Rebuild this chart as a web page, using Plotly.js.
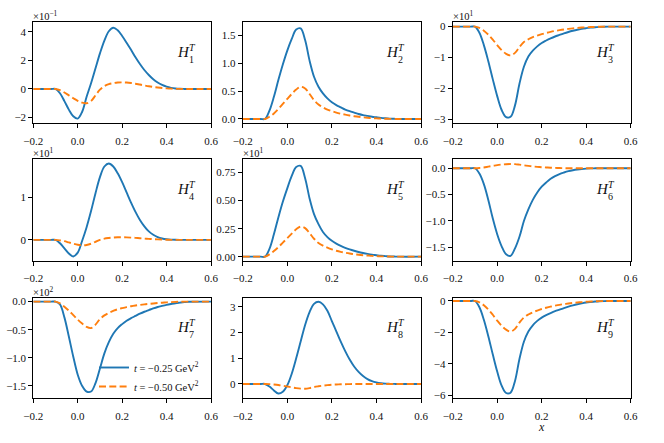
<!DOCTYPE html>
<html><head><meta charset="utf-8">
<script src="https://cdn.plot.ly/plotly-3.0.1.min.js"></script>
<style>html,body{margin:0;padding:0;background:#fff}#chart{width:664px;height:443px}</style>
</head><body><div id="chart"></div>
<script>
// shared x grid
const xGrid = [-0.2, -0.12, -0.1, -0.08, -0.06, -0.04, -0.02, 0.0, 0.02, 0.04, 0.06, 0.08, 0.1, 0.12, 0.14, 0.16, 0.18, 0.2, 0.22, 0.24, 0.26, 0.28, 0.3, 0.32, 0.34, 0.36, 0.38, 0.4, 0.42, 0.44, 0.46, 0.48, 0.5, 0.6];

const seriesNames = ['<i>t</i> = −0.25 GeV<sup>2</sup>', '<i>t</i> = −0.50 GeV<sup>2</sup>'];
const xAxisTitle = '<i>x</i>';

// values in units of the offset multiplier shown on each panel
const H1_t025 = [0,0,0,-0.3,-0.85,-1.45,-1.92,-2.08,-1.6,-0.55,0.4,1.45,2.5,3.4,4.05,4.3,4.12,3.72,3.25,2.75,2.22,1.75,1.33,0.98,0.68,0.45,0.28,0.16,0.08,0.035,0.012,0.003,0,0];
const H1_t050 = [0,0,0,-0.08,-0.25,-0.45,-0.65,-0.83,-0.96,-1.0,-0.85,-0.45,-0.05,0.2,0.34,0.41,0.45,0.46,0.45,0.42,0.37,0.31,0.25,0.19,0.14,0.1,0.065,0.04,0.022,0.01,0.004,0.001,0,0];

const H2_t025 = [0,0,0,0.15,0.4,0.7,0.98,1.23,1.44,1.61,1.63,1.42,1.05,0.76,0.58,0.46,0.37,0.3,0.25,0.21,0.17,0.14,0.115,0.09,0.07,0.055,0.04,0.03,0.02,0.012,0.006,0.003,0,0];
const H2_t050 = [0,0,0,0.04,0.1,0.18,0.27,0.36,0.45,0.53,0.58,0.55,0.45,0.34,0.26,0.21,0.17,0.14,0.115,0.095,0.077,0.062,0.05,0.039,0.03,0.022,0.016,0.011,0.007,0.004,0.002,0.001,0,0];

const H3_t025 = [0,0,0,-0.2,-0.6,-1.12,-1.7,-2.25,-2.7,-2.93,-2.92,-2.55,-1.85,-1.3,-0.97,-0.78,-0.64,-0.53,-0.45,-0.38,-0.32,-0.27,-0.22,-0.175,-0.135,-0.1,-0.072,-0.05,-0.032,-0.018,-0.009,-0.003,0,0];
const H3_t050 = [0,0,0,-0.04,-0.13,-0.26,-0.42,-0.6,-0.76,-0.88,-0.93,-0.85,-0.66,-0.5,-0.41,-0.34,-0.29,-0.245,-0.205,-0.17,-0.14,-0.115,-0.092,-0.072,-0.055,-0.041,-0.03,-0.021,-0.013,-0.007,-0.003,-0.001,0,0];

const H4_t025 = [0,0,0,-0.08,-0.2,-0.32,-0.39,-0.3,-0.02,0.3,0.68,1.1,1.48,1.73,1.8,1.73,1.57,1.36,1.12,0.88,0.66,0.47,0.32,0.2,0.12,0.066,0.034,0.016,0.007,0.003,0.001,0,0,0];
const H4_t050 = [0,0,0,-0.01,-0.03,-0.06,-0.09,-0.115,-0.125,-0.12,-0.09,-0.045,0.0,0.03,0.046,0.056,0.061,0.062,0.06,0.055,0.048,0.04,0.032,0.025,0.018,0.012,0.008,0.005,0.002,0.001,0,0,0,0];

const H5_t025 = [0,0,0,0.07,0.2,0.35,0.49,0.61,0.72,0.8,0.81,0.7,0.52,0.38,0.29,0.22,0.175,0.142,0.117,0.096,0.079,0.065,0.053,0.042,0.033,0.025,0.018,0.013,0.008,0.005,0.002,0.001,0,0];
const H5_t050 = [0,0,0,0.02,0.05,0.085,0.125,0.165,0.205,0.245,0.268,0.255,0.21,0.16,0.122,0.098,0.08,0.065,0.053,0.043,0.035,0.028,0.022,0.017,0.013,0.01,0.007,0.005,0.003,0.002,0.001,0,0,0];

const H6_t025 = [0,0,0,-0.1,-0.3,-0.6,-0.95,-1.25,-1.48,-1.63,-1.66,-1.52,-1.3,-1.0,-0.78,-0.6,-0.46,-0.35,-0.27,-0.2,-0.15,-0.11,-0.08,-0.055,-0.037,-0.024,-0.014,-0.007,-0.003,-0.001,0,0,0,0];
const H6_t050 = [0,0,0,0.005,0.015,0.03,0.045,0.06,0.07,0.077,0.08,0.078,0.068,0.056,0.045,0.035,0.027,0.02,0.015,0.01,0.007,0.004,0.002,0.001,0,0,0,0,0,0,0,0,0,0];

const H7_t025 = [0,0,0,-0.05,-0.28,-0.62,-0.98,-1.3,-1.5,-1.6,-1.6,-1.45,-1.19,-0.92,-0.72,-0.57,-0.47,-0.4,-0.34,-0.295,-0.255,-0.215,-0.18,-0.15,-0.12,-0.095,-0.075,-0.057,-0.042,-0.028,-0.018,-0.009,-0.003,0];
const H7_t050 = [0,0,0,-0.03,-0.09,-0.16,-0.24,-0.32,-0.39,-0.45,-0.47,-0.41,-0.31,-0.245,-0.2,-0.165,-0.135,-0.115,-0.097,-0.082,-0.069,-0.058,-0.048,-0.04,-0.032,-0.025,-0.019,-0.013,-0.008,-0.004,-0.002,0,0,0];

const H8_t025 = [0,0,0,-0.1,-0.25,-0.37,-0.3,-0.05,0.4,1.0,1.65,2.3,2.8,3.12,3.2,3.1,2.85,2.45,2.05,1.65,1.28,0.95,0.68,0.47,0.31,0.19,0.11,0.06,0.03,0.013,0.005,0.002,0,0];
const H8_t050 = [0,0,0,-0.005,-0.02,-0.04,-0.07,-0.1,-0.13,-0.16,-0.18,-0.185,-0.16,-0.12,-0.09,-0.065,-0.045,-0.03,-0.02,-0.013,-0.008,-0.005,-0.003,-0.001,0,0,0,0,0,0,0,0,0,0];

const H9_t025 = [0,0,0,-0.4,-1.2,-2.25,-3.4,-4.5,-5.4,-5.87,-5.85,-5.1,-3.7,-2.6,-1.95,-1.55,-1.27,-1.06,-0.9,-0.77,-0.65,-0.55,-0.45,-0.36,-0.28,-0.21,-0.15,-0.1,-0.065,-0.037,-0.018,-0.007,-0.002,0];
const H9_t050 = [0,0,0,-0.08,-0.27,-0.54,-0.88,-1.25,-1.58,-1.83,-1.95,-1.78,-1.38,-1.05,-0.86,-0.72,-0.61,-0.51,-0.43,-0.36,-0.3,-0.245,-0.2,-0.16,-0.125,-0.095,-0.07,-0.05,-0.033,-0.02,-0.01,-0.004,-0.001,0];

const panelSeries = [[H1_t025,H1_t050],[H2_t025,H2_t050],[H3_t025,H3_t050],[H4_t025,H4_t050],[H5_t025,H5_t050],[H6_t025,H6_t050],[H7_t025,H7_t050],[H8_t025,H8_t050],[H9_t025,H9_t050]];
const panelIndices = ['1','2','3','4','5','6','7','8','9'];
const offsetLabels = ['×10<sup>−1</sup>','','×10<sup>1</sup>','×10<sup>1</sup>','×10<sup>1</sup>','','×10<sup>2</sup>','',''];

const xTickValues = [-0.2, 0, 0.2, 0.4, 0.6];
const xTickLabels = ['−0.2','0.0','0.2','0.4','0.6'];
const yTickValues = [[-2,0,2,4],[0,0.5,1,1.5],[-3,-2,-1,0],[0,1],[0,0.25,0.5,0.75],[-1.5,-1,-0.5,0],[-1.5,-1,-0.5,0],[0,1,2,3],[-6,-4,-2,0]];
const yTickLabels = [['−2','0','2','4'],['0.0','0.5','1.0','1.5'],['−3','−2','−1','0'],['0','1'],['0.00','0.25','0.50','0.75'],['−1.5','−1.0','−0.5','0.0'],['−1.5','−1.0','−0.5','0.0'],['0','1','2','3'],['−6','−4','−2','0']];

// ---- layout (pixel geometry) ----
const W = 664, H = 443;
const colPx = [[33.3,211.0],[242.7,421.0],[452.7,630.7]];
const rowPx = [[22.3,123.3],[159.3,260.7],[297.7,398.3]];
const yRanges = [[-2.41,4.68],[-0.078,1.74],[-3.13,0.14],[-0.49,1.9],[-0.036,0.869],[-1.753,0.17],[-1.72,0.07],[-0.558,3.36],[-6.21,0.21]];

const FONT = 'Liberation Serif, Times New Roman, serif';
const colors = ['#1f77b4', '#ff7f0e'];
const dashes = ['solid', '7px,3.3px'];

const traces = [];
const layout = {
  width: W, height: H,
  margin: {l:0, r:0, t:0, b:0, pad:0},
  paper_bgcolor: '#fff', plot_bgcolor: '#fff',
  font: {family: FONT, size: 11, color: '#111'},
  showlegend: true,
  legend: {x: 94/W, xanchor: 'left', y: 1 - 377/H, yanchor: 'middle',
           bgcolor: 'rgba(0,0,0,0)', borderwidth: 0,
           font: {family: FONT, size: 10.5, color: '#111'}, traceorder: 'normal'},
  annotations: []
};

for (let i = 0; i < 9; i++) {
  const n = i + 1;
  const r = Math.floor(i / 3), c = i % 3;
  const xa = 'xaxis' + (n === 1 ? '' : n), ya = 'yaxis' + (n === 1 ? '' : n);
  const xr = 'x' + (n === 1 ? '' : n), yr = 'y' + (n === 1 ? '' : n);
  const axisCommon = {showgrid:false, zeroline:false, showline:true, mirror:true,
    linecolor:'#000', linewidth:1, ticks:'outside', ticklen:4, tickwidth:1, tickcolor:'#000',
    tickfont:{family:FONT, size:11, color:'#111'}, tickmode:'array', fixedrange:true};
  layout[xa] = Object.assign({}, axisCommon, {
    domain: [colPx[c][0]/W, colPx[c][1]/W], anchor: yr, range: [-0.2, 0.6],
    tickvals: xTickValues, ticktext: xTickLabels, ticklabelstandoff: 3});
  layout[ya] = Object.assign({}, axisCommon, {
    domain: [1 - rowPx[r][1]/H, 1 - rowPx[r][0]/H], anchor: xr, range: yRanges[i],
    tickvals: yTickValues[i], ticktext: yTickLabels[i]});
  for (let s = 0; s < 2; s++) {
    traces.push({
      type: 'scatter', mode: 'lines', x: xGrid, y: panelSeries[i][s],
      xaxis: xr, yaxis: yr, name: seriesNames[s],
      showlegend: n === 7, legendgroup: 's' + s,
      line: {color: colors[s], width: 1.9, dash: dashes[s], shape: 'spline', smoothing: 1},
      hoverinfo: 'skip'
    });
  }
  const xd = xr + ' domain', yd = yr + ' domain';
  if (offsetLabels[i]) {
    layout.annotations.push({xref: xd, yref: yd, x: 0, y: 1, xanchor: 'left', yanchor: 'bottom',
      text: offsetLabels[i], showarrow: false, font: {family: FONT, size: 10.5, color: '#111'}, yshift: -2, xshift: -2});
  }
  layout.annotations.push({xref: xd, yref: yd, x: 0.795, y: 0.705, xanchor: 'left', yanchor: 'middle',
    text: '<i>H</i>', showarrow: false, font: {family: FONT, size: 15, color: '#111'}});
  layout.annotations.push({xref: xd, yref: yd, x: 0.795, y: 0.705, xanchor: 'left', yanchor: 'middle',
    text: '<i>T</i>', showarrow: false, xshift: 12, yshift: 5, font: {family: FONT, size: 10, color: '#111'}});
  layout.annotations.push({xref: xd, yref: yd, x: 0.795, y: 0.705, xanchor: 'left', yanchor: 'middle',
    text: panelIndices[i], showarrow: false, xshift: 12, yshift: -7.5, font: {family: FONT, size: 10, color: '#111'}});
  if (n === 9) {
    // x-axis label under the bottom-right panel
    layout.annotations.push({xref: xd, yref: 'paper', x: 0.5, y: 1 - 419/H, xanchor: 'center', yanchor: 'top',
      text: xAxisTitle, showarrow: false, font: {family: FONT, size: 12, color: '#111'}, borderpad: 0});
  }
}

Plotly.newPlot('chart', traces, layout, {displayModeBar: false, staticPlot: true});
</script>
</body></html>
